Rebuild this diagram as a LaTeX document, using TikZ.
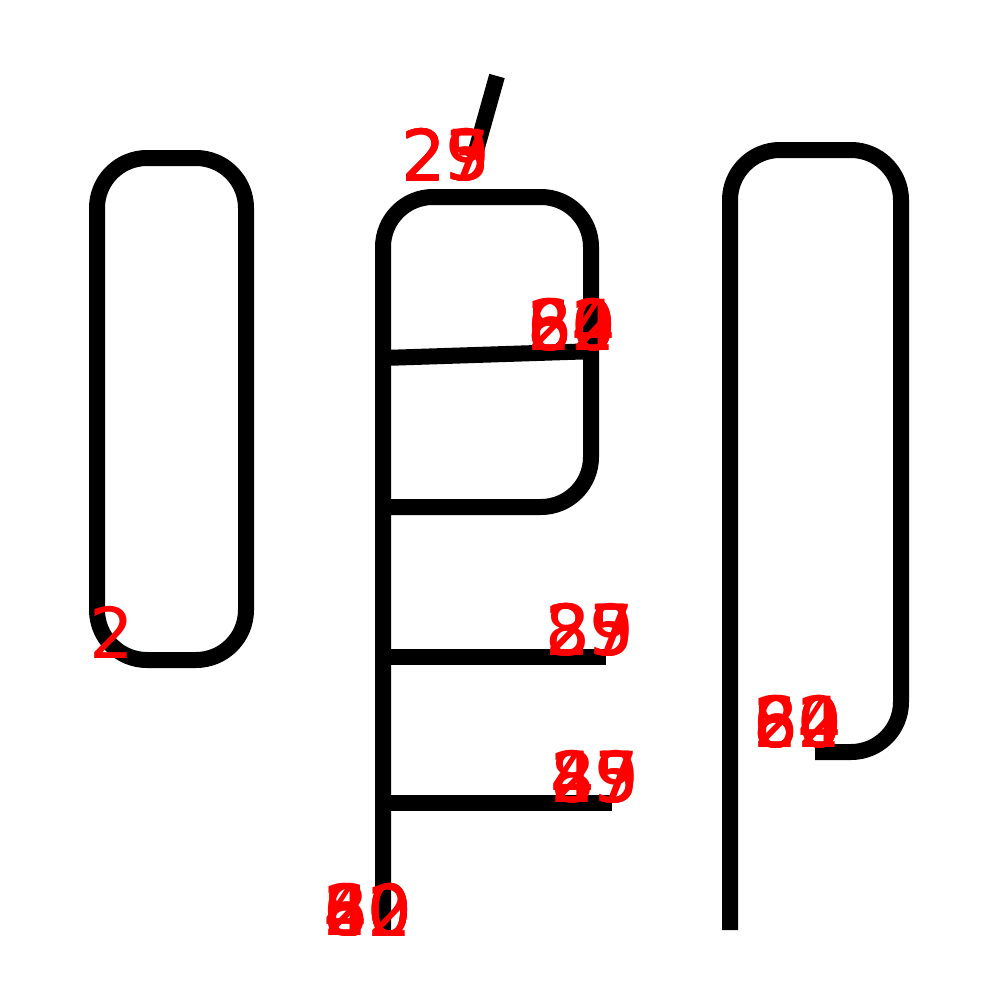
\documentclass[tikz,border=0pt]{standalone}
\usepackage{fontspec}
\setmainfont{DejaVu Sans}
\tikzset{
  stroke/.style={line width=4.55pt, line join=round},
  num/.style={text=red, font=\fontsize{20}{20}\selectfont, inner sep=0pt}
}
\begin{document}
\begin{tikzpicture}[x=0.01cm,y=-0.01cm]
  %%%%% START %%%%%
  \fill[white] (0,0) rectangle (1000,1000);

  % left box
  \draw[stroke, rounded corners=0.5cm] (97,400) -- (97,158) -- (246,158) -- (246,660) -- (97,660) -- cycle;

  % top slash
  \draw[stroke] (497,76) -- (474,158);

  % middle frame and bars
  \draw[stroke, rounded corners=0.5cm] (383,930) -- (383,197) -- (591,197) -- (591,507) -- (383,507);
  \draw[stroke] (383,358) -- (598,351);
  \draw[stroke] (383,657) -- (606,657);
  \draw[stroke] (383,803) -- (612,803);

  % right hook
  \draw[stroke, rounded corners=0.5cm] (730,930) -- (730,150) -- (901,150) -- (901,752) -- (815,752);

  % numbers
  \node[num] (n2) at (112,632) {2};
  \node[num] (t1) at (446,155) {23};
  \node[num] (t2) at (446,155) {25};
  \node[num] (t3) at (446,155) {29};
  \node[num] (t4) at (446,155) {27};
  \node[num] (a1) at (572,325) {20};
  \node[num] (a2) at (572,325) {84};
  \node[num] (a3) at (572,325) {62};
  \node[num] (a4) at (572,325) {80};
  \node[num] (b1) at (590,630) {25};
  \node[num] (b2) at (590,630) {29};
  \node[num] (b3) at (590,630) {37};
  \node[num] (b4) at (590,630) {85};
  \node[num] (c1) at (595,777) {25};
  \node[num] (c2) at (595,777) {49};
  \node[num] (c3) at (595,777) {87};
  \node[num] (c4) at (595,777) {45};
  \node[num] (d1) at (368,910) {20};
  \node[num] (d2) at (368,910) {42};
  \node[num] (d3) at (368,910) {60};
  \node[num] (d4) at (368,910) {80};
  \node[num] (e1) at (798,722) {20};
  \node[num] (e2) at (798,722) {84};
  \node[num] (e3) at (798,722) {62};
  \node[num] (e4) at (798,722) {80};
  %%%%% END %%%%%
\end{tikzpicture}
\end{document}
